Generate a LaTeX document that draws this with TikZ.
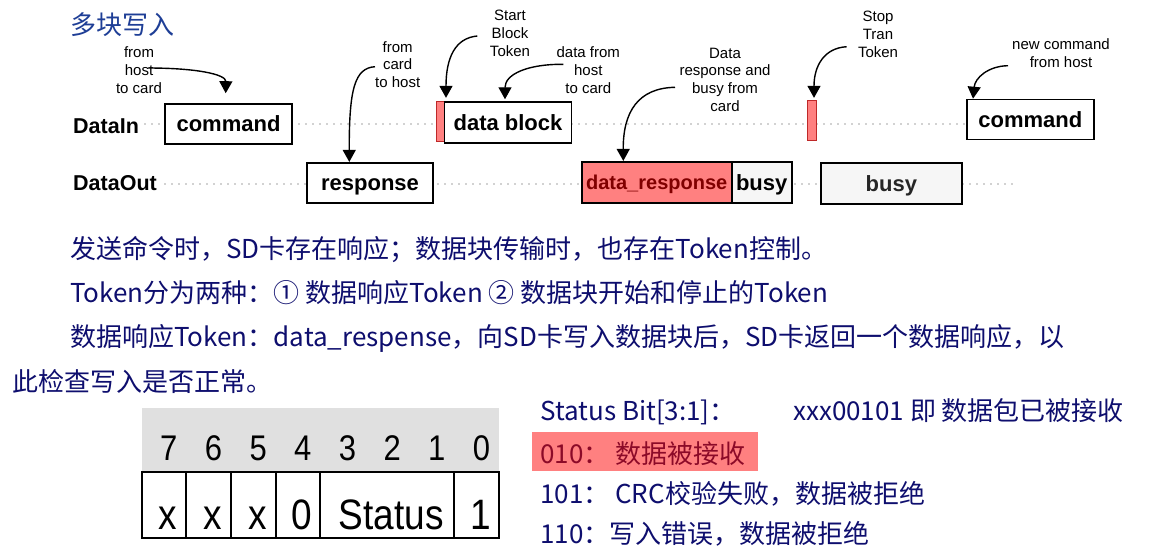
\documentclass[tikz,border=0pt]{standalone}
\usepackage{fontspec}
\setmainfont{Liberation Sans}
\newfontfamily\cjk{Noto Sans CJK SC}
\usetikzlibrary{arrows.meta}
\definecolor{tokred}{RGB}{255,128,128}
\definecolor{tokedge}{RGB}{190,40,40}
\definecolor{resptext}{RGB}{128,0,0}
\definecolor{busyfill}{RGB}{246,246,246}
\definecolor{busytext}{RGB}{38,38,38}
\definecolor{titleblue}{RGB}{30,62,150}
\definecolor{bodyblue}{RGB}{14,14,110}
\definecolor{okred}{RGB}{140,10,40}
\definecolor{hdrgray}{RGB}{224,224,224}
\newcommand{\tallfig}[2]{\scalebox{1}[#1]{#2}}

\tikzset{
  tbox/.style={draw, line width=1.6pt, fill=white, inner sep=0pt, minimum height=40pt,
    font=\fontsize{22}{24}\selectfont\bfseries, text height=15pt, text depth=0pt},
  token/.style={draw=tokedge, line width=0.9pt, fill=tokred, inner sep=0pt,
    minimum width=8pt, minimum height=40pt},
  note/.style={align=center, font=\fontsize{15}{17.7}\selectfont},
  lane/.style={font=\fontsize{21.5}{24}\selectfont\bfseries, anchor=base west, inner sep=0pt},
  dots/.style={black!75, line width=1.1pt, line cap=round, dash pattern=on 0pt off 7pt},
  callout/.style={-{Triangle[length=12pt,width=13pt]}, line width=1.4pt},
  body/.style={font=\cjk\fontsize{26}{30}\selectfont, text=bodyblue, anchor=base west, inner sep=0pt},
  bitnum/.style={font=\fontsize{31}{33}\selectfont, inner sep=0pt},
  bittext/.style={font=\fontsize{37}{39}\selectfont, anchor=base, inner sep=0pt},
  cellline/.style={line width=1.8pt},
}

\begin{document}
\begin{tikzpicture}[x=1pt,y=-1pt]
  \useasboundingbox[fill=white] (0,0) rectangle (1150,558);

  % Titulo
  \node[font=\cjk\fontsize{26}{30}\selectfont, text=titleblue, anchor=west, inner sep=0pt] (title) at (70,25) {多块写入};

  % Linhas de dados
  \node[lane] (lblIn) at (73,133.5) {DataIn};
  \node[lane] (lblOut) at (73,190.5) {DataOut};
  \coordinate (inStart) at (145,124);
  \coordinate (inEnd) at (966,124);
  \coordinate (outStart) at (165,184);
  \coordinate (outEnd) at (1015,184);
  \draw[dots] (inStart) -- (inEnd);
  \draw[dots] (outStart) -- (outEnd);

  % Blocos
  \node[tbox, minimum width=127pt] (cmdA) at (228.5,124) {command};
  \node[tbox, minimum width=126pt] (resp) at (370,182.7) {response};
  \node[token] (startTok) at (440,121.7) {};
  \node[tbox, minimum width=127pt, minimum height=41.5pt] (blk) at (508,122.5) {data block};
  \node[tbox, minimum width=150pt, minimum height=41pt, fill=tokred, text=resptext,
    font=\fontsize{20}{24}\selectfont\bfseries] (dresp) at (656.7,182.2) {data\_response};
  \node[tbox, minimum width=60pt, minimum height=41pt, fill=busyfill] (busyA) at (761.7,182.5) {busy};
  \node[token, minimum width=9pt] (stopTok) at (812,120) {};
  \node[tbox, minimum width=141pt, minimum height=41pt, fill=busyfill, text=busytext] (busyB) at (891.3,183.5) {busy};
  \node[tbox, minimum width=127pt] (cmdB) at (1030.3,119.5) {command};

  % Notas
  \node[note] (nHost) at (139,70) {from\\host\\to card};
  \node[note] (nCard) at (397.7,64.5) {from\\card\\to host};
  \node[note] (nStart) at (510,33.3) {Start\\Block\\Token};
  \node[note] (nData) at (588.3,70) {data from\\host\\to card};
  \node[note] (nResp) at (725,79.5) {Data\\response and\\busy from\\card};
  \node[note] (nStop) at (878,34.3) {Stop\\Tran\\Token};
  \node[note] (nNew) at (1061,53) {new command\\from host};

  % Setas
  \coordinate (srcA) at (148,68);
  \coordinate (srcB) at (375,66.7);
  \coordinate (srcC) at (477.3,36);
  \coordinate (srcD) at (563.3,64.3);
  \coordinate (srcE) at (675,87.3);
  \coordinate (srcF) at (846.7,46.7);
  \coordinate (srcG) at (1008,65.7);
  \draw[callout] (srcA) .. controls (195,68) and (226,74) .. ([xshift=-2.8pt,yshift=10pt]cmdA.north);
  \draw[callout] (srcB) .. controls (355,68) and (349,88) .. ([xshift=-20.7pt]resp.north);
  \draw[callout] (srcC) .. controls (455,38) and (446,58) .. ([xshift=6pt,yshift=3.4pt]startTok.north);
  \draw[callout] (srcD) .. controls (528,64) and (505,74) .. ([xshift=-3pt,yshift=1.7pt]blk.north);
  \draw[callout] (srcE) .. controls (638,88) and (623,112) .. ([xshift=-33.4pt]dresp.north);
  \draw[callout] (srcF) .. controls (824,48) and (814,66) .. ([xshift=2pt,yshift=1.7pt]stopTok.north);
  \draw[callout] (srcG) .. controls (988,66) and (975,78) .. ([xshift=-57.3pt]cmdB.north);

  % Texto
  \node[body] (p1) at (70,258) {发送命令时，SD卡存在响应；数据块传输时，也存在Token控制。};
  \node[body] (p2) at (70,302) {Token分为两种：① 数据响应Token ② 数据块开始和停止的Token};
  \node[body] (p3) at (70,346) {数据响应Token：data\_respense，向SD卡写入数据块后，SD卡返回一个数据响应，以};
  \node[body] (p4) at (12,391) {此检查写入是否正常。};

  % Byte de resposta
  \fill[hdrgray] (141.7,408) rectangle (499,472);
  \foreach \b [count=\i from 0] in {7,6,5,4,3,2,1,0}
    \node[bitnum] (h\b) at ({168.8+44.67*\i},448) {\tallfig{1.15}{\b}};
  \foreach \l/\r in {0/1,1/2,2/3,3/4,4/7,7/8}
    \draw[cellline] ({141.7+44.67*\l},472) rectangle ({141.7+44.67*\r},538);
  \foreach \t/\c [count=\j] in {x/0.5,x/1.5,x/2.5,0/3.5,Status/5.5,1/7.5}
    \node[bittext] (b\j) at ({145.7+44.67*\c},529.5) {\tallfig{1.15}{\t}};

  % Status
  \node[body] (stHead) at (540,420) {Status Bit[3:1]：};
  \node[body] (stVal) at (793,420) {xxx00101 即 数据包已被接收};
  \fill[tokred] (532,432) rectangle (758,471);
  \node[body, text=okred] (st010) at (540,463) {010： 数据被接收};
  \node[body] (st101) at (540,503) {101： CRC校验失败，数据被拒绝};
  \node[body] (st110) at (540,543) {110：写入错误，数据被拒绝};
\end{tikzpicture}
\end{document}
